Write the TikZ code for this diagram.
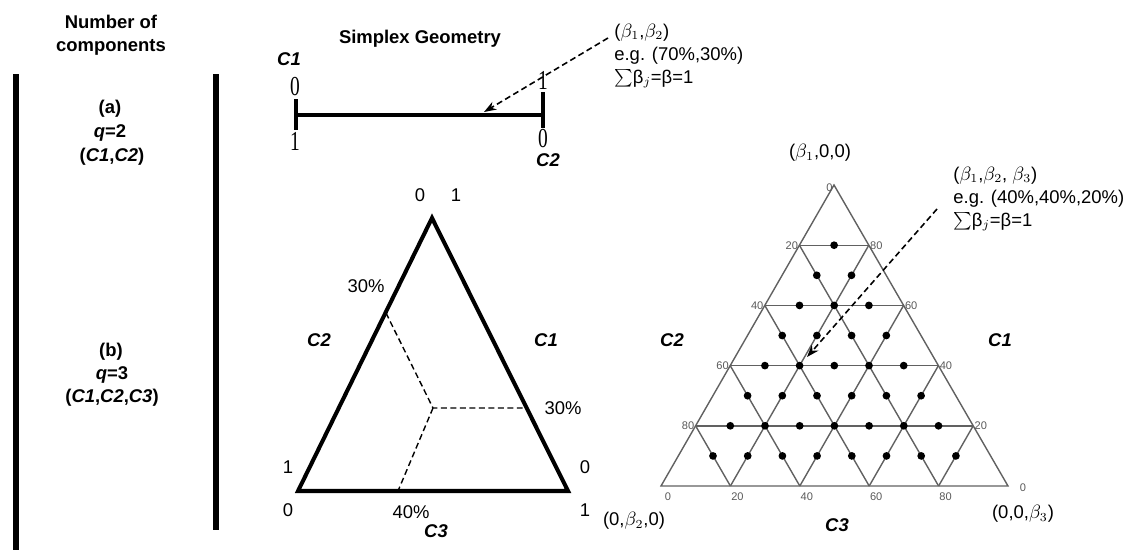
\documentclass[tikz,border=0pt]{standalone}
\usepackage{fontspec}
\usepackage{graphicx}
\setmainfont{Liberation Sans}
\newfontfamily\tickfont{Liberation Serif}
\usetikzlibrary{arrows.meta,positioning,calc}

\tikzset{
  lab/.style={font=\fontsize{10.5}{13}\selectfont\bfseries, inner sep=0pt},
  comp/.style={font=\fontsize{10.5}{13}\selectfont\bfseries\itshape, inner sep=0pt},
  txt/.style={font=\fontsize{10.5}{13}\selectfont, inner sep=0pt},
  note/.style={txt, anchor=base west},
  tick/.style={font=\tickfont\fontsize{13}{13}\selectfont, inner sep=0pt},
  small/.style={font=\fontsize{6.3}{7}\selectfont, text=black!65, inner sep=0.6pt},
  bar/.style={line width=3.4pt},
  edge/.style={line width=2.3pt, line join=miter},
  grid/.style={black!62, line width=0.8pt},
  guide/.style={line width=0.8pt, dash pattern=on 3.4pt off 2pt},
  pointer/.style={line width=0.9pt, dash pattern=on 3.4pt off 2pt, -{Stealth[length=7pt,width=5pt]}},
}
\newcommand{\tallnum}[1]{\scalebox{0.85}[1.2]{#1}}

\begin{document}
\begin{tikzpicture}[x=0.02cm, y=-0.02cm]
    \useasboundingbox (0,0) rectangle (1139,549);

    % Headings
    \node[lab, align=center] (ncomp) at (111,35) {Number of\\components};
    \node[lab] (simplex) at (420,39) {Simplex Geometry};

    % Vertical bars
    \coordinate (bar1t) at (16,74);
    \coordinate (bar1b) at (16,552);
    \coordinate (bar2t) at (216,74);
    \coordinate (bar2b) at (216,530);
    \draw[bar] (bar1t) -- (bar1b);
    \draw[bar] (bar2t) -- (bar2b);

    % Number of components
    \node[lab] (pa) at (110,109) {(a)};
    \node[lab] (qa) at (110,133) {\textit{q}=2};
    \node[lab] (ca) at (112,157) {(\textit{C1},\textit{C2})};
    \node[lab] (pb) at (111,352) {(b)};
    \node[lab] (qb) at (112,375) {\textit{q}=3};
    \node[lab] (cb) at (112,398) {(\textit{C1},\textit{C2},\textit{C3})};

    % (a) line segment
    \coordinate (sL) at (296,115);
    \coordinate (sR) at (543,115);
    \draw[edge] (sL) -- (sR);
    \draw[edge] (296,99) -- (296,130);
    \draw[edge] (543,92) -- (543,128);
    \node[tick] (sL0) at (295,87) {\tallnum{0}};
    \node[tick] (sL1) at (295,141) {\tallnum{1}};
    \node[tick] (sR1) at (543,80) {\tallnum{1}};
    \node[tick] (sR0) at (543,139) {\tallnum{0}};
    \node[comp] (sC1) at (289,59) {C1};
    \node[comp] (sC2) at (548,160) {C2};

    \node[note] (sbeta) at (614,37) {($\beta_1$,$\beta_2$)};
    \node[note] (seg) at (614,60) {e.g. (70\%,30\%)};
    \node[note] (ssum) at (614,83) {$\sum$β$_j$=β=1};
    \coordinate (sa) at (608,38);
    \coordinate (sp) at (484,112);
    \draw[pointer] (sa) -- (sp);

    % (b) simplex with example point
    \coordinate (tA) at (432,218);
    \coordinate (tB) at (298,491);
    \coordinate (tC) at (568,491);
    \coordinate (tO) at (433,408);
    \coordinate (tL) at (386,313);
    \coordinate (tR) at (523,408);
    \coordinate (tD) at (398,491);
    \draw[guide] (tL) -- (tO) -- (tR) (tO) -- (tD);
    \draw[edge] (tA) -- (tB) -- (tC) -- cycle;

    \node[txt] (tA0) at (420,195) {0};
    \node[txt] (tA1) at (456,195) {1};
    \node[txt] (tB1) at (288,467) {1};
    \node[txt] (tB0) at (288,510) {0};
    \node[txt] (tC0) at (585,467) {0};
    \node[txt] (tC1) at (585,510) {1};
    \node[txt] (tL30) at (366,286) {30\%};
    \node[txt] (tR30) at (563,408) {30\%};
    \node[txt] (tD40) at (411,512) {40\%};
    \node[comp] (tC2) at (319,340) {C2};
    \node[comp] (tK1) at (546,340) {C1};
    \node[comp] (tK3) at (436,531) {C3};

    % (b) lattice of mixtures
    \coordinate (A) at (834,185);
    \coordinate (B) at (661,486);
    \coordinate (C) at (1008,486);
    \foreach \k in {1,...,4} {
        \draw[grid] ($(A)!\k/5!(B)$) -- ($(A)!\k/5!(C)$);
        \draw[grid] ($(B)!\k/5!(C)$) -- ($(A)!\k/5!(C)$);
        \draw[grid] ($(C)!\k/5!(B)$) -- ($(A)!\k/5!(B)$);
    }
    \draw[grid] (A) -- (B) -- (C) -- cycle;
    \foreach \r in {2,...,9} {
        \pgfmathtruncatemacro\m{\r-1}
        \foreach \j in {1,...,\m}
            \fill ($(A)!\r/10!(B) + \j/10*(347,0)$) circle (2.2pt);
    }

    % axis numbers
    \node[small, anchor=east] (lab0) at ($(A)+(0,3)$) {0};
    \foreach \k/\l in {1/20,2/40,3/60,4/80} {
        \node[small, anchor=east] (ll\k) at ($(A)!\k/5!(B)$) {\l};
        \node[small, anchor=west] (lr\k) at ($(C)!\k/5!(A)$) {\l};
    }
    \foreach \k/\l in {0/0,1/20,2/40,3/60,4/80}
        \node[small] (lb\k) at ($(B)!\k/5!(C) + (7,11)$) {\l};
    \node[small] (lbc) at ($(C) + (15,2)$) {0};

    \node[txt] (vA) at (820,153) {($\beta_1$,0,0)};
    \node[txt] (vB) at (634,521) {(0,$\beta_2$,0)};
    \node[txt] (vC) at (1023,514) {(0,0,$\beta_3$)};
    \node[comp] (rC2) at (672,340) {C2};
    \node[comp] (rC1) at (1000,340) {C1};
    \node[comp] (rC3) at (837,525) {C3};

    \node[note] (rbeta) at (953,180) {($\beta_1$,$\beta_2$, $\beta_3$)};
    \node[note] (reg) at (953,203) {e.g. (40\%,40\%,20\%)};
    \node[note] (rsum) at (953,226) {$\sum$β$_j$=β=1};
    \coordinate (ra) at (937,209);
    \coordinate (rp) at (807,357);
    \draw[pointer] (ra) -- (rp);
\end{tikzpicture}
\end{document}
